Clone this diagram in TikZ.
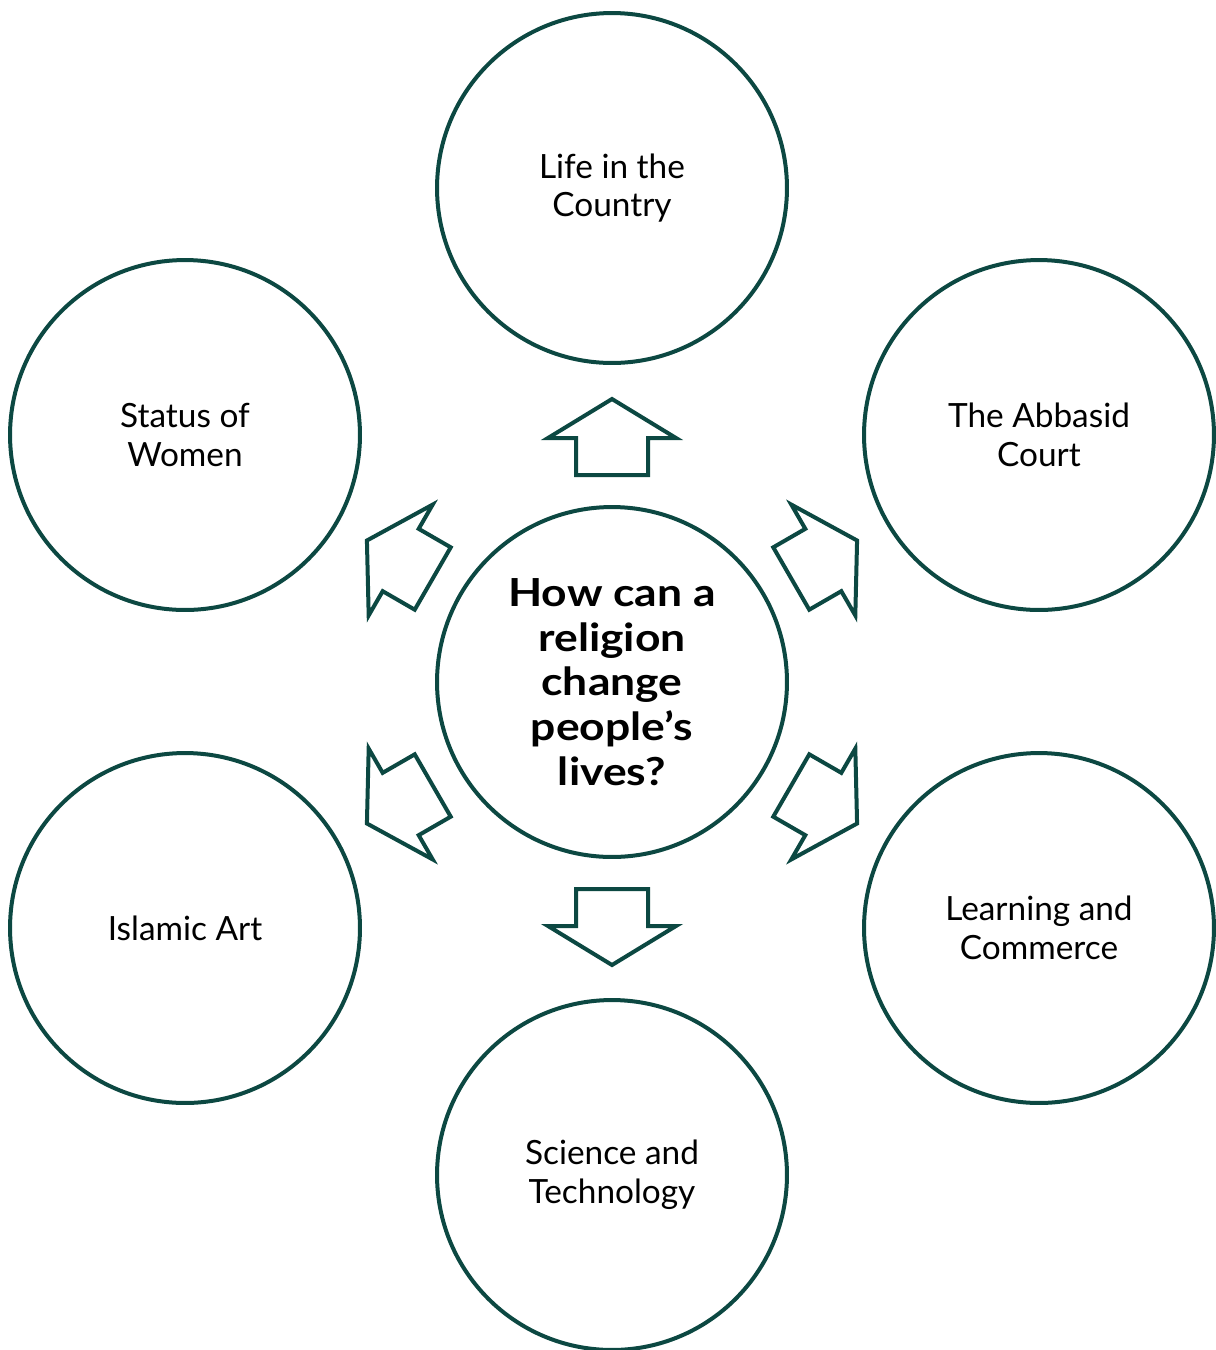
\documentclass[tikz,border=0pt]{standalone}
\usepackage{fontspec}
\setmainfont{Lato}
\newfontfamily\hubfont{Lato}[FakeStretch=1.15]
\definecolor{ringteal}{RGB}{12,72,66}
\begin{document}
\begin{tikzpicture}[x=0.02cm,y=0.02cm]
\useasboundingbox (0,0) rectangle (1215,-1350);
\tikzset{
  ring/.style={circle, draw=ringteal, line width=0.08cm, fill=white,
    minimum size=7cm, inner sep=0pt, align=center,
    font=\fontsize{19}{22}\selectfont},
  hubtext/.style={font=\hubfont\fontsize{22}{25.5}\selectfont\bfseries},
  blockarrow/.style={draw=ringteal, line width=0.08cm, fill=white, line join=miter}
}
% central question
\node[ring, hubtext] (hub) at (612,-682) {How can a\\religion\\change\\people’s\\lives?};
% surrounding topics
\node[ring] (country)  at (612,-188)  {Life in the\\Country};
\node[ring] (court)    at (1039,-435) {The Abbasid\\Court};
\node[ring] (learning) at (1039,-928) {Learning and\\Commerce};
\node[ring] (science)  at (612,-1175) {Science and\\Technology};
\node[ring] (art)      at (185,-928)  {Islamic Art};
\node[ring] (women)    at (185,-435)  {Status of\\Women};
% block arrows pointing outward from the hub
\foreach \a in {90,30,-30,-90,-150,150}{
  \begin{scope}[shift={(hub.center)}, rotate=\a]
    \draw[blockarrow] (207,36) -- (244,36) -- (244,64) -- (283,0)
      -- (244,-64) -- (244,-36) -- (207,-36) -- cycle;
  \end{scope}
}
\end{tikzpicture}
\end{document}
